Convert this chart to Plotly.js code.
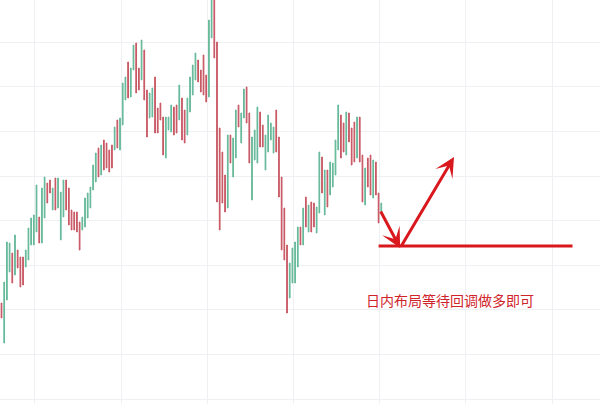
<!DOCTYPE html>
<html>
<head>
<meta charset="utf-8">
<script src="https://cdn.plot.ly/plotly-3.0.1.min.js"></script>
<style>
  html, body { margin: 0; padding: 0; background: #ffffff; }
  #chart { width: 600px; height: 404px; }
</style>
</head>
<body>
<div id="chart"></div>
<script>
// Bar highs and lows (price points), oldest first
const highs = [
  101, 122, 162, 161, 151, 169, 154, 147, 147, 154,
  176, 186, 189, 219, 187, 216, 227, 221, 224, 216,
  226, 226, 212, 224, 224, 216, 194, 192, 192, 182,
  187, 206, 211, 217, 239, 251, 256, 259, 264, 261,
  254, 259, 277, 284, 286, 321, 327, 342, 336, 359,
  361, 336, 364, 354, 314, 311, 316, 327, 296, 301,
  287, 287, 287, 299, 297, 299, 319, 306, 294, 306,
  327, 339, 351, 344, 334, 349, 329, 384, 409, 406,
  362, 276, 252, 229, 269, 269, 266, 294, 299, 291,
  315, 317, 291, 267, 274, 297, 292, 279, 269, 289,
  281, 277, 294, 267, 227, 196, 159, 141, 156, 162,
  177, 177, 196, 207, 199, 202, 201, 197, 252, 247,
  234, 234, 242, 241, 264, 299, 289, 281, 292, 291,
  276, 282, 287, 287, 249, 236, 246, 249, 244, 242,
  211, 201
];
const lows = [
   86,  61, 104, 132, 121, 129, 136, 117, 119, 137,
  144, 159, 159, 172, 161, 161, 186, 201, 211, 194,
  194, 196, 164, 187, 194, 179, 174, 174, 172, 154,
  174, 177, 186, 196, 214, 222, 227, 229, 234, 236,
  232, 236, 254, 256, 254, 279, 304, 306, 307, 334,
  311, 314, 324, 304, 267, 286, 287, 271, 271, 284,
  249, 246, 274, 272, 269, 271, 284, 264, 261, 269,
  292, 309, 324, 322, 312, 309, 302, 307, 366, 346,
  202, 174, 201, 192, 196, 241, 227, 246, 277, 261,
  286, 281, 241, 204, 244, 241, 257, 257, 234, 252,
  264, 251, 252, 207, 154, 144,  91, 106, 121, 121,
  137, 159, 159, 177, 172, 172, 177, 171, 191, 211,
  189, 197, 209, 217, 229, 254, 246, 252, 249, 262,
  239, 242, 246, 242, 202, 199, 217, 209, 206, 209,
  181, 192
];
// G = bar closed up, R = bar closed down
const sides =
  'RGGGRGRRRG' + 'GGGGRGGRRG' + 'RGGGRRRRRR' + 'GGGGGGRGRR' +
  'RRGRGGGRGG' + 'RRGRRGGRRR' + 'RGGGRRGRRG' + 'GGGRRRRGGR' +
  'RRRRGRGGRG' + 'GRRGGGRRGG' + 'GGRRRRRGGG' + 'GRGRGRRGGR' +
  'GRGGGGRRGR' + 'RRGRRGRRGR' + 'RG';

// Trade plan levels
const supportLevel = 158;
const targetLevel = 247;
const noteText = '日内布局等待回调做多即可';

const idx = highs.map((_, i) => i);
const opens = highs.map((h, i) => (sides[i] === 'G' ? lows[i] : h));
const closes = highs.map((h, i) => (sides[i] === 'G' ? h : lows[i]));

const upColor = '#66b99a';
const downColor = '#c85864';
const planRed = '#d9181e';

const lastIdx = idx[idx.length - 1];
const pivotIdx = lastIdx + 7;
const targetIdx = lastIdx + 27;
const lineEndIdx = lastIdx + 71;

const trace = {
  type: 'candlestick',
  x: idx,
  open: opens,
  high: highs,
  low: lows,
  close: closes,
  increasing: { line: { color: upColor, width: 1 }, fillcolor: upColor },
  decreasing: { line: { color: downColor, width: 1 }, fillcolor: downColor },
  whiskerwidth: 0,
  hoverinfo: 'skip',
  showlegend: false
};

const layout = {
  width: 600,
  height: 404,
  margin: { l: 0, r: 0, t: 0, b: 0, pad: 0 },
  paper_bgcolor: '#ffffff',
  plot_bgcolor: '#ffffff',
  boxgap: 0.62,
  showlegend: false,
  xaxis: {
    type: 'linear',
    range: [-0.56, 222.2],
    tick0: 12.4,
    dtick: 32,
    showgrid: true,
    gridcolor: '#eef0f3',
    gridwidth: 1,
    zeroline: false,
    showline: false,
    showticklabels: false,
    ticks: '',
    rangeslider: { visible: false },
    fixedrange: true
  },
  yaxis: {
    range: [0, 404],
    tick0: 5,
    dtick: 44.6,
    showgrid: true,
    gridcolor: '#eef0f3',
    gridwidth: 1,
    zeroline: false,
    showline: false,
    showticklabels: false,
    ticks: '',
    fixedrange: true
  },
  shapes: [
    {
      type: 'line',
      xref: 'x', yref: 'y',
      x0: lastIdx - 1, x1: lineEndIdx,
      y0: supportLevel, y1: supportLevel,
      line: { color: planRed, width: 3 }
    }
  ],
  annotations: [
    {
      xref: 'x', yref: 'y', axref: 'x', ayref: 'y',
      x: pivotIdx, y: supportLevel - 2,
      ax: lastIdx - 0.5, ay: lows[lastIdx] + 2,
      showarrow: true, arrowhead: 3, arrowsize: 1.1, arrowwidth: 3,
      arrowcolor: planRed, standoff: 0, startstandoff: 0, text: ''
    },
    {
      xref: 'x', yref: 'y', axref: 'x', ayref: 'y',
      x: targetIdx, y: targetLevel,
      ax: pivotIdx, ay: supportLevel - 2,
      showarrow: true, arrowhead: 3, arrowsize: 1.1, arrowwidth: 3,
      arrowcolor: planRed, standoff: 0, startstandoff: 0, text: ''
    },
    {
      xref: 'paper', yref: 'paper',
      x: 0.75, y: 1 - 300 / 404,
      xanchor: 'center', yanchor: 'middle',
      showarrow: false,
      text: noteText,
      font: { family: '"Noto Sans CJK SC", sans-serif', size: 14, color: '#d0232a' }
    }
  ]
};

Plotly.newPlot('chart', [trace], layout, { staticPlot: true, displayModeBar: false });
</script>
</body>
</html>
